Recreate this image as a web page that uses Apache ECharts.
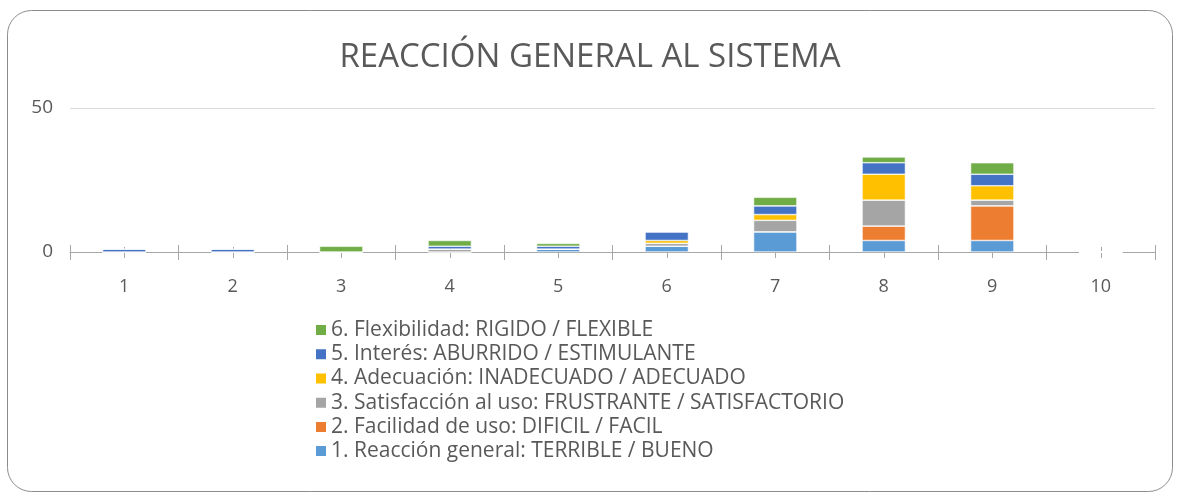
<!DOCTYPE html>
<html>
<head>
<meta charset="utf-8">
<script src="https://cdn.jsdelivr.net/npm/echarts@6/dist/echarts.min.js"></script>
<style>
  html, body { margin: 0; padding: 0; background: #fff; }
  #chart { width: 1180px; height: 498px; }
</style>
</head>
<body>
<div id="chart"></div>
<script>
// puntuaciones 1..10
var categories = ['1', '2', '3', '4', '5', '6', '7', '8', '9', '10'];

var reaccion   = [0, 0, 0, 0, 1, 2, 7, 4, 4, 0];
var facilidad  = [0, 0, 0, 0, 0, 0, 0, 5, 12, 0];
var satisfac   = [0, 0, 0, 1, 0, 1, 4, 9, 2, 0];
var adecuacion = [0, 0, 0, 0, 0, 1, 2, 9, 5, 0];
var interes    = [1, 1, 0, 1, 1, 3, 3, 4, 4, 0];
var flexib     = [0, 0, 2, 2, 1, 0, 3, 2, 4, 0];

var names = [
  '1. Reacción general: TERRIBLE / BUENO',
  '2. Facilidad de uso: DIFICIL / FACIL',
  '3. Satisfacción al uso: FRUSTRANTE / SATISFACTORIO',
  '4. Adecuación: INADECUADO / ADECUADO',
  '5. Interés: ABURRIDO / ESTIMULANTE',
  '6. Flexibilidad: RIGIDO / FLEXIBLE'
];
var colors = ['#5B9BD5', '#ED7D31', '#A5A5A5', '#FFC000', '#4472C4', '#70AD47'];
var values = [reaccion, facilidad, satisfac, adecuacion, interes, flexib];

var chartDom = document.getElementById('chart');
var myChart = echarts.init(chartDom);

var font = '"Open Sans", sans-serif';
var tickColor = '#a6a6a6';

var series = values.map(function (v, i) {
  return {
    name: names[i],
    type: 'bar',
    stack: 'total',
    barWidth: '40%',
    data: v,
    itemStyle: { color: colors[i], borderColor: '#fff', borderWidth: 0.6 }
  };
});

// eje extra solo para las marcas (sin linea ni etiquetas)
function tickAxis(offset, len, centered) {
  return {
    type: 'category',
    data: categories,
    position: 'bottom',
    offset: offset,
    axisLine: { show: true, lineStyle: { color: tickColor, opacity: 0 } },
    axisTick: { show: true, alignWithLabel: centered, length: len, lineStyle: { color: tickColor } },
    axisLabel: { show: false },
    splitLine: { show: false }
  };
}

var option = {
  animation: false,
  color: colors,
  textStyle: { fontFamily: font },
  title: {
    text: 'REACCIÓN GENERAL AL SISTEMA',
    left: 'center',
    top: 36,
    textStyle: { fontSize: 33, fontWeight: 'normal', color: '#595959', fontFamily: font }
  },
  graphic: [{
    type: 'rect',
    silent: true,
    shape: { x: 7.5, y: 10.5, width: 1165, height: 481, r: 24 },
    style: { fill: 'none', stroke: '#8c8c8c', lineWidth: 1 }
  }],
  legend: {
    orient: 'vertical',
    left: 314,
    top: 318,
    padding: 0,
    itemWidth: 12,
    itemHeight: 12,
    itemGap: 0,
    icon: 'rect',
    data: names.slice().reverse(),
    textStyle: { fontSize: 21, lineHeight: 24.2, color: '#595959', fontFamily: font, padding: [0, 0, 0, -1] }
  },
  grid: { left: 70, right: 25, top: 108, bottom: 246 },
  xAxis: [
    {
      type: 'category',
      data: categories,
      axisLine: { lineStyle: { color: tickColor } },
      axisTick: { show: false },
      axisLabel: { fontSize: 18, color: '#595959', margin: 26, fontFamily: font }
    },
    tickAxis(-7, 15, false),
    tickAxis(-5, 11, true)
  ],
  yAxis: {
    type: 'value',
    min: 0,
    max: 50,
    interval: 50,
    axisLine: { show: false },
    axisTick: { show: false },
    axisLabel: { fontSize: 19, color: '#595959', margin: 17, fontFamily: font, padding: [8, 0, 0, 0] },
    splitLine: { lineStyle: { color: '#d9d9d9' } }
  },
  series: series
};

option && myChart.setOption(option);
</script>
</body>
</html>
